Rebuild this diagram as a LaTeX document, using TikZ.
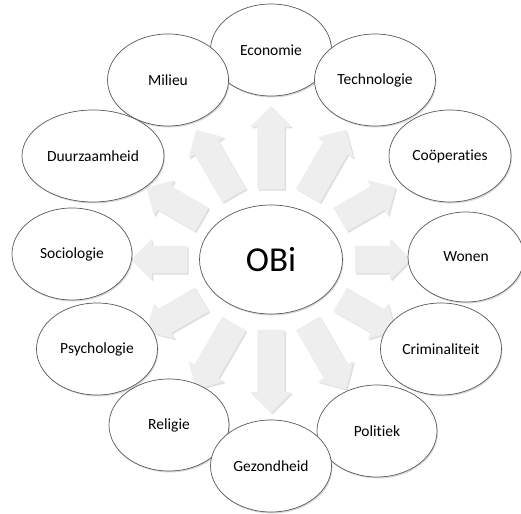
\documentclass[tikz,border=0pt]{standalone}
\usepackage{fontspec}
\setmainfont[Ligatures={NoCommon}]{Carlito}
\usepackage{xcolor}
\usepackage{tikz}
\usetikzlibrary{positioning,calc,shapes.geometric,shapes.arrows,shadows}

\begin{document}
\begin{tikzpicture}[
	x=1pt, y=1pt,
	font=\fontsize{15.5}{18}\selectfont,
	% Style for the outer bubbles
	topic/.style={ellipse, draw=black!65, line width=0.7pt, fill=white,
		minimum width=121pt, minimum height=92pt, inner sep=0pt,
		drop shadow={opacity=0.3, shadow xshift=1pt, shadow yshift=-1.5pt}},
	% Style for the grey block arrows
	ray/.style={single arrow, fill=gray!13, draw=none, inner sep=13.5pt,
		minimum height=#1, single arrow head extend=7pt,
		drop shadow={opacity=0.25, shadow xshift=1.5pt, shadow yshift=-1.5pt}}
	]
	\useasboundingbox (0,0) rectangle (521,513);
	
	% --- ARROWS (behind everything) ---
	\node[ray=83pt, rotate=90]   (r90)  at (271,358.5) {};
	\node[ray=76pt, rotate=60]   (r60)  at (323.5,344.4) {};
	\node[ray=64pt, rotate=30]   (r30)  at (361.9,306) {};
	\node[ray=56pt, rotate=0]    (r0)   at (376,253.5) {};
	\node[ray=64pt, rotate=-30]  (rm30) at (361.9,201) {};
	\node[ray=76pt, rotate=-60]  (rm60) at (323.5,162.6) {};
	\node[ray=83pt, rotate=-90]  (rm90) at (271,148.5) {};
	\node[ray=76pt, rotate=-120] (rm120) at (218.5,162.6) {};
	\node[ray=64pt, rotate=-150] (rm150) at (180.1,201) {};
	\node[ray=56pt, rotate=180]  (r180) at (166,253.5) {};
	\node[ray=64pt, rotate=150]  (r150) at (180.1,306) {};
	\node[ray=76pt, rotate=120]  (r120) at (218.5,344.4) {};
	
	% --- CENTRE ---
	\node[topic, minimum width=143pt, minimum height=109pt,
		font=\fontsize{35}{40}\selectfont] (obi) at (271,253.5) {OBi};
	
	% --- OUTER BUBBLES ---
	\node[topic] (economie) at (271,463) {Economie};
	\node[topic] (milieu) at (168,433) {Milieu};
	\node[topic] (technologie) at (375,433) {Technologie};
	\node[topic, minimum width=142pt] (duurzaamheid) at (93,357) {Duurzaamheid};
	\node[topic, minimum width=122pt] (cooperaties) at (450,357) {Coöperaties};
	\node[topic, minimum width=120pt] (sociologie) at (72,259) {Sociologie};
	\node[topic, minimum width=116pt, minimum height=90pt] (wonen) at (466,256) {Wonen};
	\node[topic] (psychologie) at (97,164) {Psychologie};
	\node[topic] (criminaliteit) at (441,164) {Criminaliteit};
	\node[topic, minimum width=120pt] (religie) at (169,88) {Religie};
	\node[topic, minimum width=120pt] (politiek) at (377,82) {Politiek};
	\node[topic] (gezondheid) at (271,47) {Gezondheid};
	
\end{tikzpicture}
\end{document}
